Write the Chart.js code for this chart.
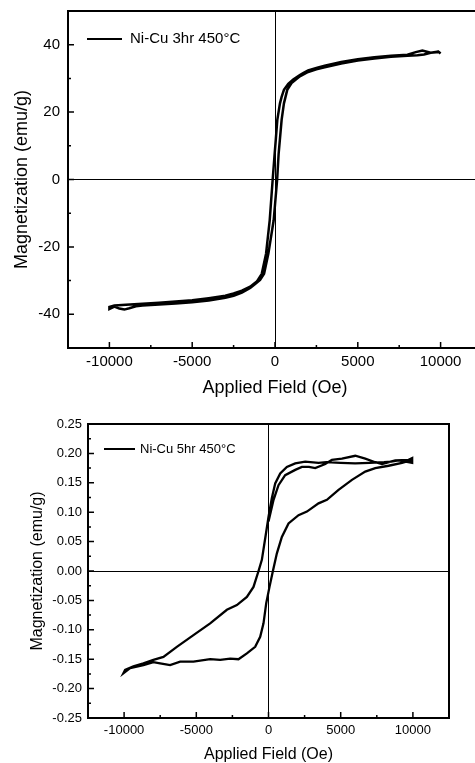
<!DOCTYPE html>
<html>
<head>
<meta charset="utf-8">
<script src="https://cdn.jsdelivr.net/npm/chart.js"></script>
<style>
html, body { margin: 0; padding: 0; background: #fff; overflow: hidden; width: 475px; height: 763px; }
#chartTop { position: absolute; left: 0; top: 0; }
#chartBottom { position: absolute; left: 0; top: 400px; }
</style>
</head>
<body>
<canvas id="chartTop" width="500" height="400"></canvas>
<canvas id="chartBottom" width="475" height="363"></canvas>
<script>
// ---- Ni-Cu 3hr 450C (top panel) ----
const topLabel = 'Ni-Cu 3hr 450°C';
const topDownField = [9900, 9400, 8900, 8500, 8000, 7000, 6000, 5000, 4000, 3000, 2500, 2000, 1700, 1500, 1100, 800, 540, 400, 300, 140, 50, -20, -140, -320, -540, -800, -1100, -1500, -2000, -2500, -3000, -4000, -5000, -6000, -7000, -8000, -9000, -9700, -10000];
const topDownMag   = [38.0, 37.6, 38.3, 37.8, 37.0, 36.7, 36.3, 35.7, 34.9, 33.8, 33.1, 32.4, 31.6, 31.0, 29.7, 28.4, 26.6, 24.5, 22.6, 17.7, 12.0, 7.7, 0, -12.1, -22.0, -28.0, -30.3, -31.8, -33.0, -33.8, -34.5, -35.2, -35.8, -36.2, -36.6, -36.9, -37.2, -37.4, -37.8];
const topUpField = [-10000, -9700, -9400, -9100, -8800, -8400, -8000, -7000, -6000, -5000, -4000, -3000, -2500, -2000, -1500, -1200, -900, -660, -400, -80, 130, 220, 400, 540, 740, 1000, 1500, 2000, 2500, 3000, 4000, 5000, 6000, 7000, 8000, 8600, 9000, 9400, 9900, 10000];
const topUpMag   = [-38.4, -37.7, -38.3, -38.6, -38.2, -37.6, -37.4, -37.1, -36.8, -36.4, -35.9, -35.1, -34.5, -33.6, -32.2, -31.0, -29.8, -28.0, -22.0, -12.1, 0, 7.7, 17.7, 22.6, 26.6, 28.6, 30.6, 31.9, 32.7, 33.3, 34.4, 35.3, 35.9, 36.4, 36.7, 36.9, 37.1, 37.6, 37.8, 37.4];
const topXTicks = [-10000, -5000, 0, 5000, 10000];
const topXMinor = [-7500, -2500, 2500, 7500];
const topYTicks = [-40, -20, 0, 20, 40];
const topYMinor = [-30, -10, 10, 30];

// ---- Ni-Cu 5hr 450C (bottom panel) ----
const botLabel = 'Ni-Cu 5hr 450°C';
const botInitField = [0, 350, 693, 1155, 1850, 2313, 2800, 3235, 3930, 4390, 5085, 6010, 6700, 7394, 7860, 8780, 9700, 9950];
const botInitMag   = [0.084, 0.121, 0.146, 0.163, 0.172, 0.177, 0.177, 0.175, 0.182, 0.189, 0.191, 0.196, 0.191, 0.185, 0.182, 0.188, 0.189, 0.192];
const botDownField = [9950, 9500, 9000, 8500, 8000, 7000, 6000, 5000, 4000, 3466, 2543, 1850, 1272, 811, 464, 233, 0, -200, -460, -690, -1039, -1497, -2190, -2883, -4040, -5197, -6348, -7277, -7970, -8663, -9356, -9931, -10050];
const botDownMag   = [0.184, 0.186, 0.188, 0.186, 0.185, 0.184, 0.183, 0.184, 0.185, 0.184, 0.186, 0.183, 0.177, 0.166, 0.149, 0.124, 0.092, 0.060, 0.019, 0, -0.027, -0.044, -0.058, -0.066, -0.089, -0.109, -0.129, -0.146, -0.151, -0.157, -0.162, -0.168, -0.174];
const botUpField = [-10050, -9584, -8663, -7970, -7505, -6812, -6119, -5197, -4040, -3347, -2654, -2079, -1497, -922, -575, -346, -159, 69, 305, 580, 925, 1386, 2080, 2660, 3466, 4045, 4850, 5780, 6700, 7394, 8316, 9245, 9820, 9950];
const botUpMag   = [-0.174, -0.165, -0.160, -0.155, -0.157, -0.160, -0.154, -0.154, -0.150, -0.151, -0.149, -0.150, -0.140, -0.129, -0.112, -0.089, -0.055, -0.027, 0, 0.030, 0.058, 0.081, 0.095, 0.101, 0.115, 0.121, 0.138, 0.155, 0.169, 0.175, 0.179, 0.184, 0.188, 0.190];
const botXTicks = [-10000, -5000, 0, 5000, 10000];
const botXMinor = [-7500, -2500, 2500, 7500];
const botYTicks = [-0.25, -0.2, -0.15, -0.1, -0.05, 0, 0.05, 0.1, 0.15, 0.2, 0.25];
const botYMinor = [-0.225, -0.175, -0.125, -0.075, -0.025, 0.025, 0.075, 0.125, 0.175, 0.225];

Chart.defaults.font.family = "'Liberation Sans', Arial, sans-serif";
Chart.defaults.color = '#000';

function toPoints(fields, mags){
    const pts = [];
    fields.forEach((f, i) => fields[i].forEach((h, j) => pts.push({x: h, y: mags[i][j]})));
    return pts;
}

// frame, inward ticks and in-plot legend
const framePlugin = {
    id: 'frame',
    afterDraw(chart, args, o){
        const {ctx, chartArea: a, scales: {x, y}} = chart;
        ctx.save();
        ctx.strokeStyle = '#000';
        ctx.lineWidth = 2;
        ctx.strokeRect(a.left, a.top, a.right - a.left, a.bottom - a.top);
        ctx.lineWidth = 1.5;
        ctx.beginPath();
        o.xMajor.forEach(v => { const p = x.getPixelForValue(v); ctx.moveTo(p, a.bottom); ctx.lineTo(p, a.bottom - 6); });
        o.xMinor.forEach(v => { const p = x.getPixelForValue(v); ctx.moveTo(p, a.bottom); ctx.lineTo(p, a.bottom - 3); });
        o.yMajor.forEach(v => { const p = y.getPixelForValue(v); ctx.moveTo(a.left, p); ctx.lineTo(a.left + 6, p); });
        o.yMinor.forEach(v => { const p = y.getPixelForValue(v); ctx.moveTo(a.left, p); ctx.lineTo(a.left + 3, p); });
        ctx.stroke();
        // legend
        const lg = o.legend;
        ctx.lineWidth = 2;
        ctx.beginPath();
        ctx.moveTo(a.left + lg.x0, a.top + lg.y);
        ctx.lineTo(a.left + lg.x1, a.top + lg.y);
        ctx.stroke();
        ctx.fillStyle = '#000';
        ctx.font = lg.size + "px 'Liberation Sans', Arial, sans-serif";
        ctx.textBaseline = 'middle';
        ctx.textAlign = 'left';
        ctx.fillText(chart.data.datasets[0].label, a.left + lg.tx, a.top + lg.y);
        ctx.restore();
    }
};

const zeroLine = c => (c.tick && c.tick.value === 0) ? '#000' : 'rgba(0,0,0,0)';

function makeChart(id, cfg){
    return new Chart(document.getElementById(id), {
        type: 'scatter',
        data: {datasets: [{
            label: cfg.label,
            data: cfg.points,
            showLine: true,
            borderColor: '#000',
            borderWidth: cfg.lineW,
            pointRadius: 0,
            tension: 0
        }]},
        options: {
            responsive: false,
            animation: false,
            devicePixelRatio: 1,
            layout: {padding: cfg.pad},
            plugins: {legend: {display: false}, tooltip: {enabled: false}, frame: cfg.frame},
            scales: {
                x: {
                    min: -12500, max: 12500,
                    afterBuildTicks: s => { s.ticks = cfg.xTicks.map(v => ({value: v})); },
                    afterFit: s => { s.height = cfg.xH; },
                    ticks: {font: {size: cfg.tickSize}, padding: 5, maxRotation: 0, callback: v => String(v)},
                    grid: {color: zeroLine, lineWidth: 1, drawTicks: false},
                    border: {display: false},
                    title: {display: true, text: 'Applied Field (Oe)', font: {size: cfg.titleSize, lineHeight: 1}, padding: {top: 0, bottom: cfg.xTitlePad}}
                },
                y: {
                    min: cfg.yMin, max: cfg.yMax,
                    afterBuildTicks: s => { s.ticks = cfg.yTicks.map(v => ({value: v})); },
                    afterFit: s => { s.width = cfg.yW; },
                    ticks: {font: {size: cfg.tickSize}, padding: 2, callback: cfg.yFmt},
                    grid: {color: zeroLine, lineWidth: 1, drawTicks: true, tickLength: cfg.yTickGap, tickColor: 'rgba(0,0,0,0)'},
                    border: {display: false},
                    title: {display: true, text: 'Magnetization (emu/g)', font: {size: cfg.titleSize, lineHeight: 1}, padding: {top: cfg.yTitlePad, bottom: 0}}
                }
            }
        },
        plugins: [framePlugin]
    });
}

makeChart('chartTop', {
    label: topLabel,
    points: toPoints([topDownField, topUpField], [topDownMag, topUpMag]),
    lineW: 2.5,
    pad: {left: 0, top: 11, right: 18, bottom: 0},
    xH: 52, yW: 68,
    tickSize: 15, titleSize: 18,
    xTitlePad: 3, yTitlePad: 13, yTickGap: 6,
    yMin: -50, yMax: 50,
    xTicks: topXTicks, yTicks: topYTicks,
    yFmt: v => String(v),
    frame: {xMajor: topXTicks, xMinor: topXMinor, yMajor: topYTicks, yMinor: topYMinor,
            legend: {x0: 19, x1: 54, y: 28, tx: 62, size: 15}}
});

makeChart('chartBottom', {
    label: botLabel,
    points: toPoints([botInitField, botDownField, botUpField], [botInitMag, botDownMag, botUpMag]),
    lineW: 2.3,
    pad: {left: 0, top: 24, right: 26, bottom: 0},
    xH: 45, yW: 88,
    tickSize: 13, titleSize: 16,
    xTitlePad: 0, yTitlePad: 30, yTickGap: 4,
    yMin: -0.25, yMax: 0.25,
    xTicks: botXTicks, yTicks: botYTicks,
    yFmt: v => Number(v).toFixed(2),
    frame: {xMajor: botXTicks, xMinor: botXMinor, yMajor: botYTicks, yMinor: botYMinor,
            legend: {x0: 16, x1: 47, y: 25, tx: 52, size: 13}}
});
</script>
</body>
</html>
